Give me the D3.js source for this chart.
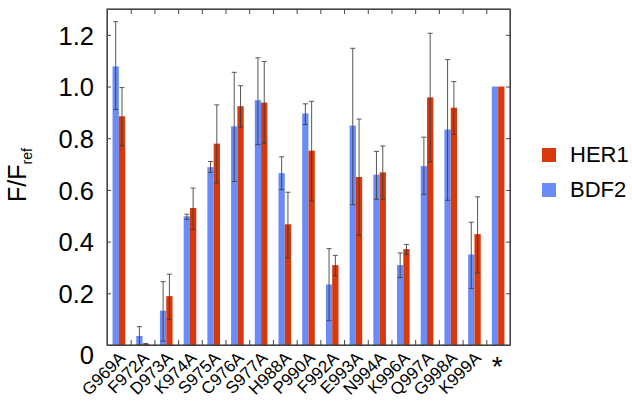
<!DOCTYPE html>
<html><head><meta charset="utf-8">
<script src="https://cdn.jsdelivr.net/npm/d3@7/dist/d3.min.js"></script>
<style>
html,body{margin:0;padding:0;background:#fff;}
svg{display:block;font-family:"Liberation Sans",Arial,Helvetica,sans-serif;}
</style></head>
<body>
<svg id="chart" width="632" height="412"></svg>
<script>
const categories = ["G969A","F972A","D973A","K974A","S975A","C976A","S977A","H988A","P990A","F992A","E993A","N994A","K996A","Q997A","G998A","K999A","*"];
const seriesNames = ["BDF2","HER1"];
const bdf2   = [1.078,0.035,0.133,0.498,0.688,0.846,0.947,0.665,0.896,0.234,0.849,0.659,0.309,0.692,0.834,0.350,1.0];
const bdf2Lo = [0.911,0.0,  0.015,0.486,0.668,0.633,0.775,0.601,0.853,0.094,0.543,0.564,0.261,0.583,0.560,0.219,null];
const bdf2Hi = [1.251,0.071,0.245,0.506,0.710,1.055,1.111,0.728,0.933,0.373,1.148,0.749,0.356,0.804,1.104,0.475,null];
const her1   = [0.885,0.004,0.189,0.530,0.779,0.924,0.938,0.467,0.752,0.309,0.650,0.668,0.371,0.958,0.918,0.429,1.0];
const her1Lo = [0.771,0.0,  0.099,0.447,0.627,0.843,0.781,0.337,0.557,0.268,0.425,0.564,0.351,0.708,0.815,0.279,null];
const her1Hi = [0.996,0.006,0.274,0.607,0.929,1.003,1.097,0.591,0.943,0.347,0.874,0.770,0.389,1.206,1.019,0.573,null];
const yTicks = [0,0.2,0.4,0.6,0.8,1.0,1.2];
const legendNames = ["HER1","BDF2"];

const colors = {BDF2:"#6a8cf7", HER1:"#d8390c"};
const frameColor = "#444";

const svg = d3.select("#chart");
const L=107, R=510, T=9, B=345;

const x0 = d3.scaleBand().domain(categories).range([L,R]).padding(0);
const x1 = d3.scaleBand().domain(seriesNames).range([0,x0.bandwidth()]).paddingInner(0).paddingOuter(0.88);
const y = d3.scaleLinear().domain([0,1.3]).range([B,T]);
const xi = d3.scaleLinear().domain([0,categories.length]).range([L,R]);

const rows = categories.map((c,i)=>({
  cat:c,
  vals:[
    {s:"BDF2",v:bdf2[i],lo:bdf2Lo[i],hi:bdf2Hi[i]},
    {s:"HER1",v:her1[i],lo:her1Lo[i],hi:her1Hi[i]}
  ]
}));

const g = svg.append("g");
const grp = g.selectAll("g.grp").data(rows).join("g")
  .attr("class","grp")
  .attr("transform",d=>`translate(${x0(d.cat)},0)`);

grp.selectAll("rect").data(d=>d.vals).join("rect")
  .attr("x",d=>x1(d.s))
  .attr("width",x1.bandwidth())
  .attr("y",d=>y(d.v))
  .attr("height",d=>y(0)-y(d.v))
  .attr("fill",d=>colors[d.s]);

// error bars
const eb = grp.selectAll("g.eb").data(d=>d.vals.filter(v=>v.lo!=null)).join("g")
  .attr("class","eb")
  .attr("transform",d=>`translate(${x1(d.s)+x1.bandwidth()/2},0)`)
  .attr("stroke","#3a3a3a").attr("stroke-width",1).attr("opacity",0.85);
eb.append("line").attr("x1",0).attr("x2",0).attr("y1",d=>y(d.lo)).attr("y2",d=>y(d.hi));
eb.append("line").attr("x1",-2.5).attr("x2",2.5).attr("y1",d=>y(d.hi)).attr("y2",d=>y(d.hi));
eb.append("line").attr("x1",-2.5).attr("x2",2.5).attr("y1",d=>y(d.lo)).attr("y2",d=>y(d.lo));

// axes
const fmt = v => v===0 ? "0" : d3.format(".1f")(v);
const ax = svg.append("g");
const left = ax.append("g").attr("transform",`translate(${L},0)`)
  .call(d3.axisLeft(y).tickValues(yTicks).tickSizeInner(-4).tickSizeOuter(0).tickPadding(13).tickFormat(fmt));
left.selectAll("text").attr("font-size",25.5).attr("fill","#000").attr("font-family","Liberation Sans, Arial, sans-serif")
  .attr("dy",d=>d===0?"0.72em":"0.36em");
ax.append("g").attr("transform",`translate(${R},0)`)
  .call(d3.axisRight(y).tickValues(yTicks).tickSizeInner(-4).tickSizeOuter(0).tickFormat(""));
ax.append("g").attr("transform",`translate(0,${T})`)
  .call(d3.axisTop(xi).tickValues(d3.range(1,categories.length)).tickSizeInner(-5).tickSizeOuter(0).tickFormat(""));
ax.append("g").attr("transform",`translate(0,${B})`)
  .call(d3.axisBottom(xi).tickValues(d3.range(1,categories.length)).tickSizeInner(-5).tickSizeOuter(0).tickFormat(""));
const bot = ax.append("g").attr("transform",`translate(0,${B})`)
  .call(d3.axisBottom(x0).tickSize(0));
bot.select(".domain").remove();
bot.selectAll("text")
  .attr("font-family","Liberation Sans, Arial, sans-serif")
  .attr("fill","#000")
  .attr("y",0).attr("x",0)
  .each(function(d){
    const t=d3.select(this);
    if(d==="*"){
      t.attr("font-size",28).attr("text-anchor","middle").attr("dy","0").attr("transform","translate(-1,31)");
    } else {
      t.attr("font-size",17).attr("text-anchor","end").attr("dy","0").attr("transform","translate(7.5,14) rotate(-45)");
    }
  });
ax.selectAll(".domain").attr("stroke",frameColor);
ax.selectAll(".tick line").attr("stroke",frameColor);

// frame
svg.append("rect").attr("x",L).attr("y",T).attr("width",R-L).attr("height",B-T)
  .attr("fill","none").attr("stroke",frameColor).attr("stroke-width",1.2);

// y label
const yl = svg.append("text").attr("transform","translate(26,175) rotate(-90)")
  .attr("text-anchor","middle").attr("font-size",25).attr("fill","#000");
yl.append("tspan").text("F/F");
yl.append("tspan").attr("font-size",14).attr("dy",6).text("ref");

// legend
const lg = svg.append("g").selectAll("g").data(legendNames).join("g")
  .attr("transform",(d,i)=>`translate(542,${162+i*35})`);
lg.append("rect").attr("x",0).attr("y",-14).attr("width",14).attr("height",14).attr("fill",d=>colors[d]);
lg.append("text").attr("x",28).attr("y",0).attr("font-size",22).attr("fill","#000").text(d=>d);
</script>
</body></html>
